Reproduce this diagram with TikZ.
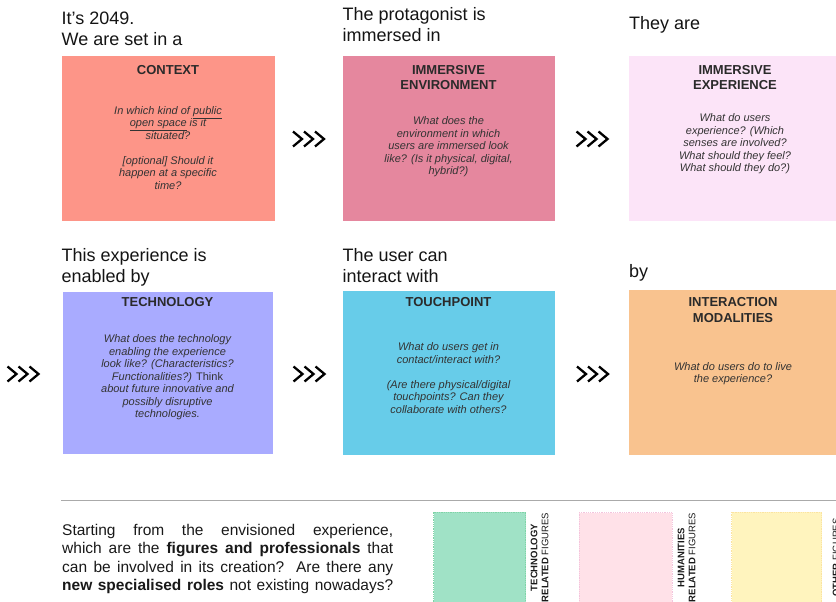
\documentclass[tikz,border=0pt]{standalone}
\usepackage{fontspec}
\setmainfont{Liberation Sans}
\definecolor{ctxfill}{HTML}{FD9588}
\definecolor{envfill}{HTML}{E5879E}
\definecolor{expfill}{HTML}{FCE4F8}
\definecolor{techfill}{HTML}{A9ABFF}
\definecolor{touchfill}{HTML}{67CCE9}
\definecolor{modfill}{HTML}{F9C38F}
\definecolor{greenfill}{HTML}{A0E2C6}
\definecolor{greenedge}{HTML}{7FD3A6}
\definecolor{pinkfill}{HTML}{FFE1E8}
\definecolor{pinkedge}{HTML}{F3C4DD}
\definecolor{yellowfill}{HTML}{FFF4BE}
\definecolor{yellowedge}{HTML}{FBE3A0}
\definecolor{titlecol}{HTML}{2A2A2A}
\definecolor{bodycol}{HTML}{333333}
\definecolor{rulecol}{HTML}{AAAAAA}
\begin{document}
\begin{tikzpicture}[x=1pt,y=-1pt,
  card/.style={rectangle, inner sep=0pt, minimum width=213pt, minimum height=166pt, draw=white, line width=0.4pt},
  lead/.style={anchor=base west, align=left, inner sep=0pt, text=black!92,
    font=\fontsize{18}{21}\selectfont},
  cardtitle/.style={align=center, inner sep=0pt, text=titlecol,
    font=\fontsize{13}{15.5}\selectfont\bfseries},
  ask/.style={align=center, inner sep=0pt, text=bodycol,
    font=\fontsize{11}{12.5}\selectfont\itshape},
  legendbox/.style={rectangle, inner sep=0pt, minimum width=92pt, minimum height=110pt,
    densely dotted, line width=0.8pt},
  vlabel/.style={rotate=90, align=center, inner sep=0pt, text=black!90,
    font=\fontsize{9.5}{11}\selectfont},
  chevrons/.pic={
    \foreach \dx in {-11,0,11}
      \draw[line width=2.3pt] (\dx-4.5,-7.5) -- (\dx+4.5,0) -- (\dx-4.5,7.5);
  }
]
\useasboundingbox (0,0) rectangle (836,602);

% ---- first row (lead-in nodes are placed by the baseline of their last line) ----
\node[lead] (leadctx) at (61.5,46) {It’s 2049.\\We are set in a};
\node[card, fill=ctxfill, minimum width=214pt] (context) at (168,138) {};
\node[cardtitle] (ctxtitle) at (168,70) {CONTEXT};
\node[ask] (ctxask) at (168,148) {In which kind of \underline{public}\\\underline{open space} is it\\situated?\\[12.5pt]{[optional]} Should it\\happen at a specific\\time?};

\node[lead] (leadenv) at (342.5,42) {The protagonist is\\immersed in};
\node[card, fill=envfill] (environment) at (448.5,138) {};
\node[cardtitle] (envtitle) at (448.5,77.5) {IMMERSIVE\\ENVIRONMENT};
\node[ask] (envask) at (448.5,147) {What does the\\environment in which\\users are immersed look\\like? (Is it physical, digital,\\hybrid?)};

\node[lead] (leadexp) at (629,30) {They are};
\node[card, fill=expfill] (experience) at (734.5,138) {};
\node[cardtitle] (exptitle) at (735,77.5) {IMMERSIVE\\EXPERIENCE};
\node[ask] (expask) at (735,144) {What do users\\experience? (Which\\senses are involved?\\What should they feel?\\What should they do?)};

% ---- second row ----
\node[lead] (leadtech) at (61.5,282) {This experience is\\enabled by};
\node[card, fill=techfill, minimum width=211pt, minimum height=163pt] (technology) at (167.5,372.5) {};
\node[cardtitle] (techtitle) at (167.5,302) {TECHNOLOGY};
\node[ask] (techask) at (167.5,377.5) {What does the technology\\enabling the experience\\look like? (Characteristics?\\Functionalities?) \upshape Think\\about future innovative and\\possibly disruptive\\technologies.};

\node[lead] (leadtouch) at (342.5,282) {The user can\\interact with};
\node[card, fill=touchfill, minimum height=165pt] (touchpoint) at (448.5,372.5) {};
\node[cardtitle] (touchtitle) at (448.5,302) {TOUCHPOINT};
\node[ask] (touchask) at (448.5,378) {What do users get in\\contact/interact with?\\[12.5pt](Are there physical/digital\\touchpoints? Can they\\collaborate with others?};

\node[lead] (leadmod) at (629,277) {by};
\node[card, fill=modfill] (modalities) at (734.5,372) {};
\node[cardtitle] (modtitle) at (733,310) {INTERACTION\\MODALITIES};
\node[ask] (modask) at (733,373.5) {What do users do to live\\the experience?};

% ---- chevrons between the cards ----
\pic at (308.5,139) {chevrons};
\pic at (592,139) {chevrons};
\pic at (23,374) {chevrons};
\pic at (309,374) {chevrons};
\pic at (592.5,374) {chevrons};

% ---- divider ----
\draw[rulecol, line width=1pt] (61,500) -- (836,500);

% ---- figures and professionals ----
\node[anchor=base west, align=left, inner sep=0pt, text=black!90,
  font=\fontsize{15.5}{18.5}\selectfont] (prompt) at (62,590.5)
  {\makebox[331pt][s]{Starting from the envisioned experience,}\\
   \makebox[331pt][s]{which are the \textbf{figures and professionals} that}\\
   \makebox[331pt][s]{can be involved in its creation? Are there any}\\
   \makebox[331pt][s]{\textbf{new specialised roles} not existing nowadays?}};

\node[legendbox, fill=greenfill, draw=greenedge] (techfig) at (479.5,567) {};
\node[vlabel] (techfiglbl) at (539.5,557.5) {\textbf{TECHNOLOGY}\\\textbf{RELATED} FIGURES};

\node[legendbox, fill=pinkfill, draw=pinkedge, minimum width=93pt] (humfig) at (625.5,567.5) {};
\node[vlabel] (humfiglbl) at (686.5,557.5) {\textbf{HUMANITIES}\\\textbf{RELATED} FIGURES};

\node[legendbox, fill=yellowfill, draw=yellowedge, minimum width=90pt] (otherfig) at (776.5,567) {};
\node[vlabel] (otherfiglbl) at (836,557.5) {\textbf{OTHER} FIGURES};
\end{tikzpicture}
\end{document}
